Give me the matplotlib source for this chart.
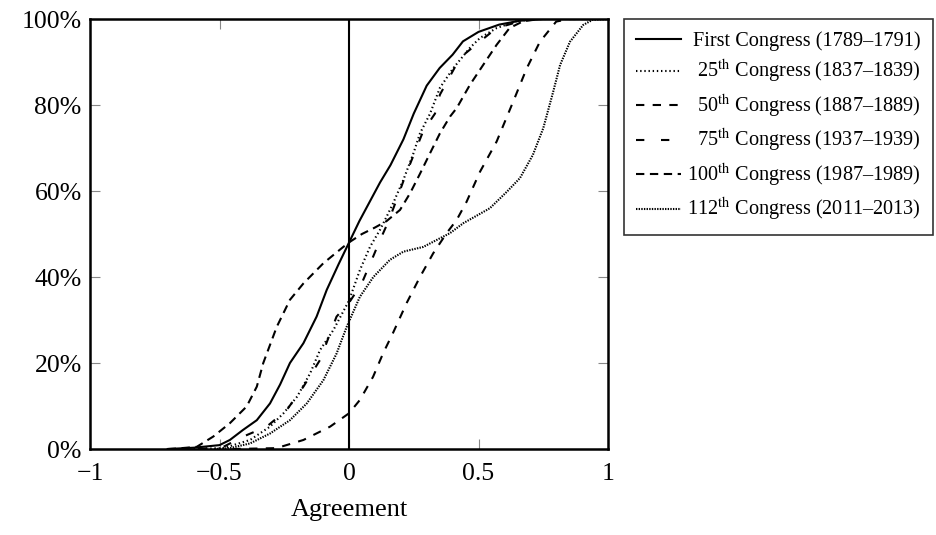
import matplotlib
matplotlib.use("Agg")
import matplotlib.pyplot as plt

plt.rcParams['font.family'] = ['Liberation Serif', 'DejaVu Serif']
plt.rcParams['mathtext.fontset'] = 'stix'
plt.rcParams['lines.scale_dashes'] = False

# ===== DATA =====
first_x = [-0.70, -0.60, -0.50, -0.46, -0.41, -0.356, -0.305, -0.266, -0.228, -0.176, -0.125, -0.086,
           -0.04, 0.0, 0.04, 0.08, 0.12, 0.16, 0.21, 0.25, 0.30, 0.35, 0.40, 0.44, 0.50, 0.58, 0.66, 0.75, 1.0]
first_y = [0, 0.3, 0.9, 2.1, 4.4, 6.7, 10.6, 15, 20, 24.6, 30.8, 37,
           43, 48, 53, 57.5, 62, 66, 72, 78, 84.5, 88.6, 91.7, 94.8, 97, 98.7, 99.6, 100, 100]

c25_x = [-0.60, -0.485, -0.382, -0.305, -0.253, -0.20, -0.15, -0.112, -0.06, 0.0, 0.042, 0.081, 0.12,
         0.145, 0.17, 0.21, 0.249, 0.274, 0.313, 0.351, 0.403, 0.467, 0.506, 0.57, 0.647, 0.72, 1.0]
c25_y = [0, 0.2, 2.1, 5.2, 8.3, 12.2, 17.6, 23, 27.7, 34.5, 41.6, 47, 51,
         54, 57.1, 62.6, 68.8, 73.4, 78, 84, 88.6, 93.3, 95.6, 97.9, 99.5, 100, 100]

c50_x = [-0.45, -0.28, -0.176, -0.073, 0.0, 0.042, 0.093, 0.132, 0.17, 0.223, 0.274, 0.325, 0.377,
         0.416, 0.454, 0.506, 0.57, 0.634, 0.686, 0.737, 0.80, 0.85, 1.0]
c50_y = [0, 0.2, 2.1, 5.2, 8.3, 11.4, 16.8, 22.3, 27, 34, 40, 45.5, 50.2,
         53.3, 57.5, 64.5, 71.5, 80.8, 88.5, 94.7, 99.4, 100, 100]

c75_x = [-0.58, -0.485, -0.408, -0.318, -0.24, -0.176, -0.112, -0.048, 0.0, 0.049, 0.088, 0.12,
         0.152, 0.184, 0.216, 0.287, 0.332, 0.351, 0.429, 0.506, 0.57, 0.634, 0.72, 1.0]
c75_y = [0, 0.5, 2.9, 5.2, 9.1, 14.5, 20.7, 30.8, 34, 38.5, 44, 48.6,
         52.9, 58, 63.3, 74, 78, 82.4, 91, 94.8, 97.9, 99, 100, 100]

c100_x = [-0.70, -0.666, -0.588, -0.524, -0.46, -0.395, -0.356, -0.331, -0.279, -0.228, -0.176, -0.099,
          -0.022, 0.004, 0.05, 0.10, 0.145, 0.197, 0.236, 0.274, 0.313, 0.351, 0.39, 0.416, 0.467,
          0.519, 0.57, 0.62, 0.673, 0.74, 1.0]
c100_y = [0, 0.1, 0.5, 2.9, 6, 9.9, 14.5, 20, 28.4, 34.7, 38.5, 43.2,
          47, 48.2, 50, 51.5, 53, 55.6, 59.5, 64, 68.8, 73.4, 77.3, 79.3, 84.7,
          89.4, 94, 97.9, 99.5, 100, 100]

c112_x = [-0.52, -0.46, -0.382, -0.305, -0.228, -0.163, -0.099, -0.048, -0.009, 0.042, 0.094, 0.158,
          0.21, 0.287, 0.351, 0.39, 0.441, 0.50, 0.544, 0.609, 0.66, 0.71, 0.75, 0.788, 0.815,
          0.853, 0.904, 0.94, 1.0]
c112_y = [0, 0.2, 1.3, 3.6, 6.7, 10.6, 16, 22.2, 28.4, 35.4, 40, 44,
          45.9, 47, 49, 50.2, 52.5, 54.5, 56, 59.8, 63, 68.4, 74.6, 83, 89.3,
          94.7, 98.6, 99.8, 100]

labels = ["First Congress (1789–1791)",
          "25$^{\\mathrm{th}}$ Congress (1837–1839)",
          "50$^{\\mathrm{th}}$ Congress (1887–1889)",
          "75$^{\\mathrm{th}}$ Congress (1937–1939)",
          "100$^{\\mathrm{th}}$ Congress (1987–1989)",
          "112$^{\\mathrm{th}}$ Congress (2011–2013)"]

x_ticks = [-1, -0.5, 0, 0.5, 1]
x_ticklabels = ["−1", "−0.5", "0", "0.5", "1"]
y_ticks = [0, 20, 40, 60, 80, 100]
y_ticklabels = ["0%", "20%", "40%", "60%", "80%", "100%"]

# ===== PLOT =====
fig = plt.figure(figsize=(9.36, 5.35), dpi=100)
ax = fig.add_axes([90 / 936, 86 / 535, 518 / 936, 430 / 535])

lw = 1.5
ax.plot(first_x, first_y, color='black', lw=lw, linestyle='-', label=labels[0])
ax.plot(c25_x, c25_y, color='black', lw=lw, linestyle=(0, (1, 2)), label=labels[1])
ax.plot(c50_x, c50_y, color='black', lw=lw, linestyle=(0, (6, 6)), label=labels[2])
ax.plot(c75_x, c75_y, color='black', lw=lw, linestyle=(0, (6, 12)), label=labels[3])
ax.plot(c100_x, c100_y, color='black', lw=lw, linestyle=(0, (6, 4)), label=labels[4])
ax.plot(c112_x, c112_y, color='black', lw=lw, linestyle=(0, (1, 0.9)), label=labels[5])

ax.axvline(0, color='black', lw=1.5)

ax.set_xlim(-1, 1)
ax.set_ylim(0, 100)
ax.set_xticks(x_ticks)
ax.set_xticklabels(x_ticklabels)
ax.set_yticks(y_ticks)
ax.set_yticklabels(y_ticklabels)
ax.tick_params(direction='in', length=7, width=0.8, color='#888888', labelsize=18.5,
               top=True, right=True)
ax.tick_params(axis='x', pad=10)
ax.tick_params(axis='y', pad=6)
for s in ax.spines.values():
    s.set_linewidth(1.8)

ax.set_xlabel("Agreement", fontsize=19, labelpad=10)

leg = ax.legend(loc='upper left', bbox_to_anchor=(624 / 936, 1 - 19 / 535),
                bbox_transform=fig.transFigure, fontsize=14.6, frameon=True, fancybox=False,
                edgecolor='black', handlelength=2.2, handletextpad=0.3, labelspacing=0.36,
                borderpad=0.6, borderaxespad=0)
leg.get_frame().set_linewidth(1.2)

# right-align the legend texts, handles stay on the left
fig.canvas.draw()
renderer = fig.canvas.get_renderer()
widths = [t.get_window_extent(renderer).width for t in leg.get_texts()]
wmax = max(widths)
for t, w in zip(leg.get_texts(), widths):
    t.set_position((wmax - w, 0))

fig.savefig("out.png", dpi=100)
